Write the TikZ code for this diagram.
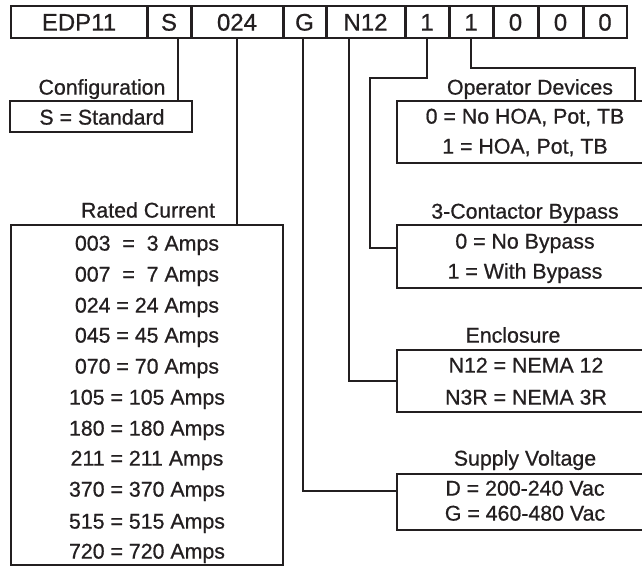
\documentclass[tikz,border=0pt]{standalone}
\usepackage{fontspec}
\setmainfont{Liberation Sans}[FakeBold=0.7]
\usetikzlibrary{calc}
\definecolor{ink}{RGB}{35,31,32}
\begin{document}
\begin{tikzpicture}[x=0.75pt,y=-0.75pt,
  lab/.style={font=\fontsize{16}{18}\selectfont, inner sep=0pt, text height=11.4pt, text depth=0pt, text=ink},
  codecell/.style={font=\fontsize{18}{20}\selectfont, inner sep=0pt, text height=12.9pt, text depth=0pt, text=ink, minimum height=24pt},
  box/.style={draw=ink, line width=1.5pt, inner sep=0pt},
  wire/.style={draw=ink, line width=1pt},
  divider/.style={draw=ink, line width=2.4pt}
]
\useasboundingbox (0,0) rectangle (642,567);

% top code row
\node[codecell, minimum width={136*0.75pt}] (c1) at (79,22) {EDP11};
\node[codecell, minimum width={44*0.75pt}] (c2) at (169,22) {S};
\node[codecell, minimum width={92*0.75pt}] (c3) at (237,22) {024};
\node[codecell, minimum width={43*0.75pt}] (c4) at (304.5,22) {G};
\node[codecell, minimum width={79*0.75pt}] (c5) at (365.5,22) {N12};
\node[codecell, minimum width={44*0.75pt}] (c6) at (427,22) {1};
\node[codecell, minimum width={44*0.75pt}] (c7) at (471,22) {1};
\node[codecell, minimum width={45*0.75pt}] (c8) at (515.5,22) {0};
\node[codecell, minimum width={45*0.75pt}] (c9) at (560.5,22) {0};
\node[codecell, minimum width={44*0.75pt}] (c10) at (605,22) {0};
\draw[draw=ink, line width=1.5pt] (c1.north west) rectangle (c10.south east);
\foreach \i in {1,...,9}{
  \draw[divider] (c\i.north east) -- (c\i.south east);
}

% left boxes
\node[box, minimum width={182*0.75pt}, minimum height={31*0.75pt}] (cfg) at (101,116.5) {};
\node[lab] (cfgh) at (102,87) {Configuration};
\node[lab] (cfg1) at (102,117) {S = Standard};

\node[box, minimum width={272*0.75pt}, minimum height={340*0.75pt}] (rate) at (147,395) {};
\node[lab] (rateh) at (148,210) {Rated Current};
\node[lab] (r1) at (147,243) {003\ \ =\ \ 3 Amps};
\node[lab] (r2) at (147,274) {007\ \ =\ \ 7 Amps};
\node[lab] (r3) at (147,305) {024 = 24 Amps};
\node[lab] (r4) at (147,335) {045 = 45 Amps};
\node[lab] (r5) at (147,366) {070 = 70 Amps};
\node[lab] (r6) at (147,397) {105 = 105 Amps};
\node[lab] (r7) at (147,428) {180 = 180 Amps};
\node[lab] (r8) at (147,458) {211 = 211 Amps};
\node[lab] (r9) at (147,489) {370 = 370 Amps};
\node[lab] (r10) at (147,521) {515 = 515 Amps};
\node[lab] (r11) at (147,551) {720 = 720 Amps};

% right boxes
\node[box, minimum width={256*0.75pt}, minimum height={62*0.75pt}] (op) at (525,132) {};
\node[lab] (oph) at (530,87) {Operator Devices};
\node[lab] (op1) at (525,116) {0 = No HOA, Pot, TB};
\node[lab] (op2) at (525,146) {1 = HOA, Pot, TB};

\node[box, minimum width={256*0.75pt}, minimum height={63*0.75pt}] (byp) at (525,256.5) {};
\node[lab] (byph) at (525,211) {3-Contactor Bypass};
\node[lab] (byp1) at (525,241) {0 = No Bypass};
\node[lab] (byp2) at (525,271) {1 = With Bypass};

\node[box, minimum width={256*0.75pt}, minimum height={62*0.75pt}] (enc) at (525,381) {};
\node[lab] (ench) at (513,335) {Enclosure};
\node[lab] (enc1) at (526,365) {N12 = NEMA 12};
\node[lab] (enc2) at (526,397) {N3R = NEMA 3R};

\node[box, minimum width={256*0.75pt}, minimum height={56*0.75pt}] (volt) at (525,502) {};
\node[lab] (volth) at (525,458) {Supply Voltage};
\node[lab] (volt1) at (525,488) {D = 200-240 Vac};
\node[lab] (volt2) at (525,513) {G = 460-480 Vac};

% connectors
\coordinate (sS) at ($(c2.south)+(9,0)$);
\draw[wire] (sS) -- (sS |- cfg.north);

\draw[wire] (c3.south) -- (c3.south |- rate.north);

\coordinate (sG) at ($(c4.south)+(-1.5,0)$);
\coordinate (vG) at ($(volt.west)+(0,-11)$);
\draw[wire] (sG) |- (vG);

\coordinate (sN) at ($(c5.south)+(-16.5,0)$);
\draw[wire] (sN) |- (enc.west);

\coordinate (bK) at (370,78);
\coordinate (bY) at ($(byp.west)+(0,-8.5)$);
\draw[wire] (c6.south) |- (bK) |- (bY);

\coordinate (oK) at (635,68);
\draw[wire] (c7.south) |- (oK) -- (oK |- op.north);
\end{tikzpicture}
\end{document}
